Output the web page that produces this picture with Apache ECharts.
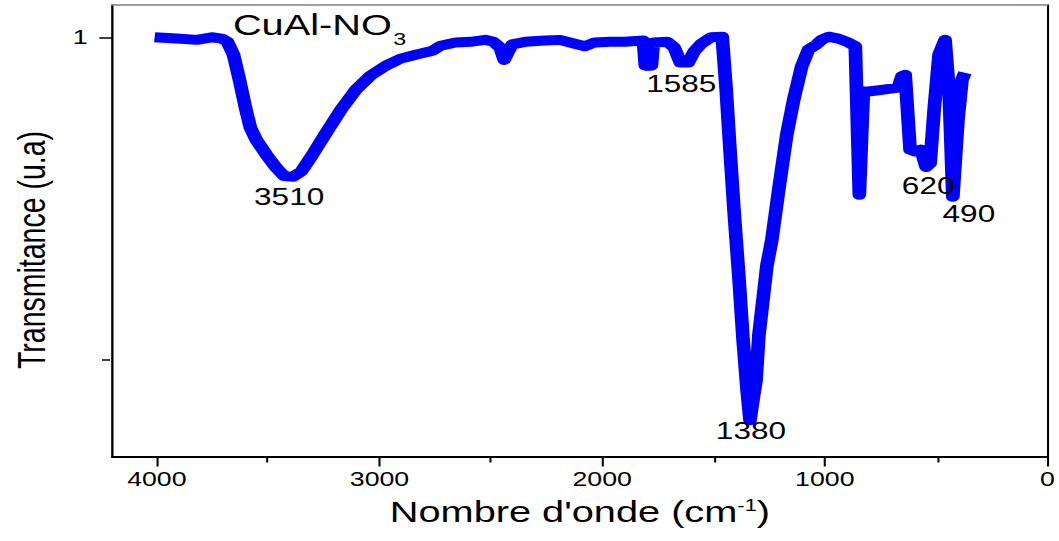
<!DOCTYPE html>
<html>
<head>
<meta charset="utf-8">
<script src="https://cdn.jsdelivr.net/npm/echarts@6/dist/echarts.min.js"></script>
<style>
  html, body { margin: 0; padding: 0; background: #fff; }
  #wrap { width: 1059px; height: 541px; overflow: hidden; }
  /* the figure is laid out narrow and widened horizontally */
  #chart { width: 773px; height: 541px; transform: scaleX(1.37); transform-origin: 0 0; }
</style>
</head>
<body>
<div id="wrap"><div id="chart"></div></div>
<script>
// FTIR spectrum of CuAl-NO3
const wavenumber = [
  4010, 3911, 3821, 3754, 3709, 3683, 3656, 3629, 3602, 3580,
  3553, 3508, 3464, 3428, 3388, 3352, 3307, 3240, 3173, 3106,
  3039, 2972, 2905, 2838, 2762, 2726, 2659, 2592, 2525, 2489,
  2458, 2440, 2422, 2404, 2346, 2257, 2190, 2123, 2078, 2034,
  1966, 1899, 1815, 1806, 1779, 1770, 1707, 1676, 1649, 1613,
  1587, 1555, 1511, 1461, 1443, 1426, 1408, 1385, 1367, 1349,
  1336, 1323, 1309, 1296, 1278, 1260, 1238, 1207, 1171, 1140,
  1104, 1073, 1037, 1015, 983, 939, 894, 863, 845, 827,
  804, 737, 670, 653, 639, 617, 594, 568, 545, 527,
  509, 487, 460, 442, 425, 402, 384, 371
];
const transmittance = [
  1.000, 0.998, 0.996, 1.000, 0.998, 0.993, 0.973, 0.934, 0.891, 0.860,
  0.841, 0.818, 0.798, 0.785, 0.784, 0.792, 0.815, 0.852, 0.888, 0.919,
  0.941, 0.956, 0.967, 0.973, 0.979, 0.987, 0.992, 0.993, 0.996, 0.993,
  0.984, 0.965, 0.978, 0.989, 0.993, 0.995, 0.996, 0.990, 0.986, 0.992,
  0.993, 0.993, 0.995, 0.956, 0.956, 0.992, 0.993, 0.984, 0.961, 0.961,
  0.978, 0.990, 1.000, 1.001, 0.919, 0.826, 0.733, 0.624, 0.531, 0.453,
  0.407, 0.438, 0.469, 0.539, 0.593, 0.647, 0.686, 0.764, 0.849, 0.903,
  0.955, 0.981, 0.989, 0.996, 1.001, 0.998, 0.992, 0.986, 0.756, 0.916,
  0.916, 0.919, 0.922, 0.940, 0.942, 0.826, 0.823, 0.826, 0.799, 0.805,
  0.888, 0.973, 0.996, 0.919, 0.753, 0.872, 0.934, 0.945
];

// band annotations and where their text sits (wavenumber, transmittance)
const peakLabels = ['3510', '1585', '1380', '620', '490'];
const peakLabelX = [3406, 1645, 1332, 536, 353];
const peakLabelY = [0.753, 0.927, 0.390, 0.770, 0.726];

// axis ticks
const xTickValues = [0, 1000, 2000, 3000, 4000];
const xMinorTicks = [500, 1500, 2500, 3500];
const yTickValues = [1];
const yMinorTicks = [0.5];

const FONT = 'Liberation Sans, Arial, sans-serif';
const X_MIN = 0, X_MAX = 4200, Y_MIN = 0.35, Y_MAX = 1.05;
const PLOT = { left: 80.3, right: 6.6, top: 5, bottom: 84 };

const spectrum = wavenumber.map((w, i) => [w, transmittance[i]]);
const peaks = peakLabels.map((t, i) => [peakLabelX[i], peakLabelY[i], t]);

const chart = echarts.init(document.getElementById('chart'), null, { renderer: 'svg' });

const baseX = { type: 'value', min: X_MIN, max: X_MAX, inverse: true, splitLine: { show: false } };
const baseY = { type: 'value', min: Y_MIN, max: Y_MAX, splitLine: { show: false } };
const tickLine = { color: '#000', width: 1.5 };

chart.setOption({
  animation: false,
  backgroundColor: '#fff',
  title: {
    text: '{m|CuAl-NO}{s|3}',
    left: 170, top: 10, padding: 0,
    textStyle: {
      rich: {
        m: { fontFamily: FONT, fontSize: 29, fontWeight: 'normal', color: '#000', lineHeight: 32, verticalAlign: 'top' },
        s: { fontFamily: FONT, fontSize: 17, fontWeight: 'normal', color: '#000', lineHeight: 17, verticalAlign: 'top', padding: [21, 0, 0, 1] }
      }
    }
  },
  // grid 0 carries the spectrum and main ticks, grid 1 (same box) the minor ticks
  grid: [
    Object.assign({ containLabel: false }, PLOT),
    Object.assign({ containLabel: false }, PLOT)
  ],
  xAxis: [
    Object.assign({}, baseX, {
      gridIndex: 0,
      position: 'bottom',
      name: '{m|Nombre d\'onde (cm}{s|-1}{m|)}',
      nameLocation: 'middle',
      nameGap: 40,
      nameTextStyle: {
        rich: {
          m: { fontFamily: FONT, fontSize: 29, color: '#000', lineHeight: 32, verticalAlign: 'top' },
          s: { fontFamily: FONT, fontSize: 16, color: '#000', lineHeight: 16, verticalAlign: 'top', padding: [1, 0, 0, 0] }
        }
      },
      axisLine: { show: true, onZero: false, lineStyle: { color: '#000', width: 2 } },
      axisTick: { show: true, customValues: xTickValues, length: 9.5, lineStyle: tickLine },
      axisLabel: {
        customValues: xTickValues, margin: 12, fontFamily: FONT, fontSize: 19.5, color: '#000',
        formatter: v => String(v)
      }
    }),
    Object.assign({}, baseX, {
      gridIndex: 0,
      position: 'top',
      axisLine: { show: true, onZero: false, lineStyle: { color: '#808080', width: 1.5 } },
      axisTick: { show: false },
      axisLabel: { show: false }
    }),
    Object.assign({}, baseX, {
      gridIndex: 1,
      position: 'bottom',
      axisLine: { show: false, onZero: false },
      axisTick: { show: true, customValues: xMinorTicks, length: 5.5, lineStyle: tickLine },
      axisLabel: { show: false }
    })
  ],
  yAxis: [
    Object.assign({}, baseY, {
      gridIndex: 0,
      position: 'left',
      name: 'Transmitance (u.a)',
      nameLocation: 'middle',
      nameGap: 45,
      nameTextStyle: { fontFamily: FONT, fontSize: 28.5, color: '#000', padding: [0, 38, 0, 0] },
      axisLine: { show: true, onZero: false, lineStyle: { color: '#000', width: 1.7 } },
      axisTick: { show: true, customValues: yTickValues, length: 9.5, lineStyle: tickLine },
      axisLabel: { customValues: yTickValues, margin: 18, fontFamily: FONT, fontSize: 19.5, color: '#000' }
    }),
    Object.assign({}, baseY, {
      gridIndex: 0,
      position: 'right',
      axisLine: { show: true, onZero: false, lineStyle: { color: '#000', width: 1.5 } },
      axisTick: { show: false },
      axisLabel: { show: false }
    }),
    Object.assign({}, baseY, {
      gridIndex: 1,
      position: 'left',
      axisLine: { show: false, onZero: false },
      axisTick: { show: true, customValues: yMinorTicks, length: 5.8, lineStyle: tickLine },
      axisLabel: { show: false }
    })
  ],
  series: [
    {
      name: 'CuAl-NO3',
      type: 'line',
      xAxisIndex: 0,
      yAxisIndex: 0,
      data: spectrum,
      showSymbol: false,
      symbol: 'none',
      lineStyle: { color: '#0000ff', width: 10, join: 'round', cap: 'butt' },
      z: 3
    },
    {
      name: 'bands',
      type: 'scatter',
      xAxisIndex: 0,
      yAxisIndex: 0,
      data: peaks,
      symbolSize: 0,
      silent: true,
      z: 4,
      itemStyle: { opacity: 1 },
      label: {
        show: true,
        position: 'inside',
        formatter: p => p.value[2],
        fontFamily: FONT,
        fontSize: 23,
        color: '#000',
        opacity: 1,
        textBorderWidth: 0
      }
    }
  ]
});
</script>
</body>
</html>
